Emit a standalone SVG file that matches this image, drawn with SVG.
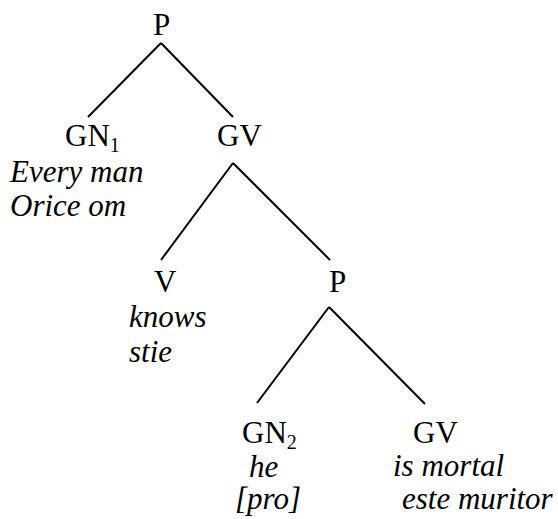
<svg xmlns="http://www.w3.org/2000/svg" width="558" height="519" viewBox="0 0 558 519">
<style>
.n{font-family:"Liberation Serif","Times New Roman",serif;font-size:31px;fill:#000}
.w{font-family:"Liberation Serif","Times New Roman",serif;font-size:31px;font-style:italic;fill:#000}
.s{font-size:20px}
.e{stroke:#000;stroke-width:2;fill:none}
</style>
<rect width="558" height="519" fill="#fff"/>
<g id="connectors">
<line class="e" x1="161" y1="43" x2="88" y2="117"/>
<line class="e" x1="161" y1="43" x2="233" y2="117"/>
<line class="e" x1="233" y1="163" x2="161" y2="260"/>
<line class="e" x1="233" y1="163" x2="330" y2="260"/>
<line class="e" x1="329" y1="307" x2="257" y2="403"/>
<line class="e" x1="329" y1="307" x2="425" y2="404"/>
</g>
<g id="P1"><text class="n" x="153" y="35">P</text></g>
<g id="GN1"><text class="n" x="65" y="146">GN<tspan class="s" dy="6">1</tspan></text>
<text class="w" x="10" y="182">Every man</text>
<text class="w" x="10" y="216">Orice om</text></g>
<g id="GV1"><text class="n" x="217" y="146">GV</text></g>
<g id="V"><text class="n" x="154" y="292">V</text>
<text class="w" x="129" y="327">knows</text>
<text class="w" x="129" y="362">stie</text></g>
<g id="P2"><text class="n" x="329" y="292">P</text></g>
<g id="GN2"><text class="n" x="242" y="443">GN<tspan class="s" dy="6">2</tspan></text>
<text class="w" x="249" y="477">he</text>
<text class="w" x="235" y="509">[pro]</text></g>
<g id="GV2"><text class="n" x="413" y="443">GV</text>
<text class="w" x="393" y="476">is mortal</text>
<text class="w" x="402" y="509">este muritor</text></g>
</svg>
